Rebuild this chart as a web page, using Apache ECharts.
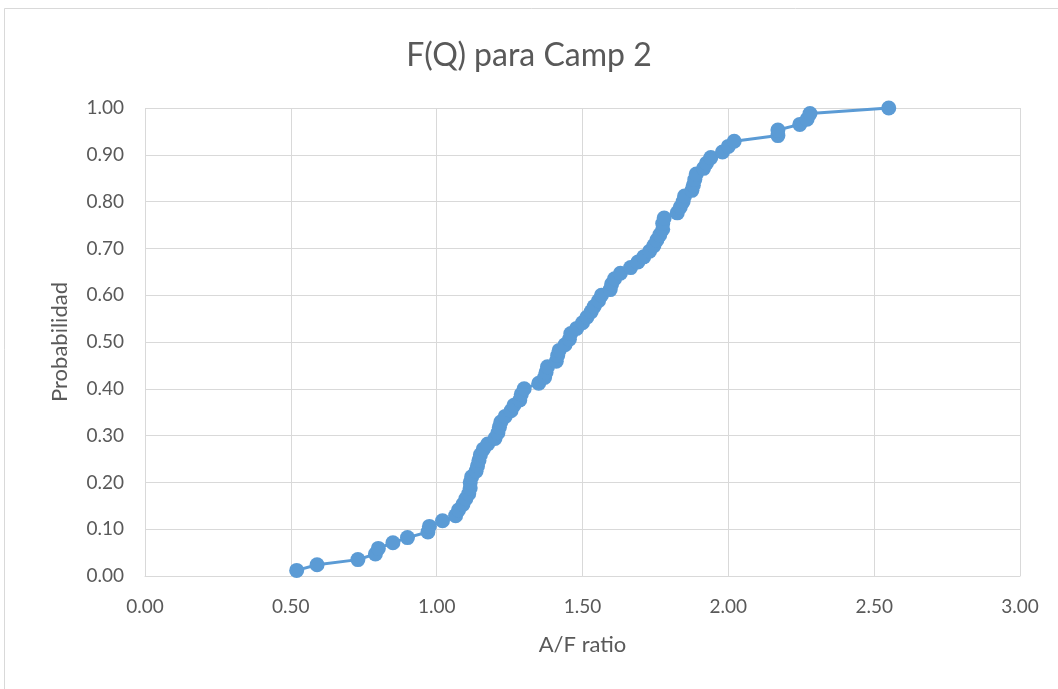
<!DOCTYPE html>
<html><head><meta charset="utf-8">
<script src="https://cdn.jsdelivr.net/npm/echarts@6/dist/echarts.min.js"></script>
<style>html,body{margin:0;padding:0;background:#fff}#c{width:1058px;height:689px}</style>
</head><body><div id="c"></div>
<script>
const title = 'F(Q) para Camp 2';
const xName = 'A/F ratio';
const yName = 'Probabilidad';
const afRatio = [0.52,0.59,0.73,0.79,0.80,0.85,0.90,0.97,0.975,1.02,
  1.065,1.075,1.09,1.10,1.11,1.115,1.115,1.12,1.135,1.14,
  1.145,1.15,1.16,1.175,1.20,1.21,1.215,1.22,1.235,1.255,
  1.265,1.285,1.29,1.30,1.35,1.37,1.375,1.38,1.41,1.415,
  1.42,1.44,1.455,1.46,1.48,1.50,1.515,1.53,1.54,1.555,
  1.565,1.595,1.60,1.61,1.63,1.665,1.69,1.71,1.73,1.745,
  1.755,1.765,1.775,1.775,1.78,1.825,1.835,1.845,1.85,1.875,
  1.88,1.885,1.89,1.915,1.925,1.94,1.98,2.00,2.02,2.17,
  2.17,2.245,2.27,2.28,2.55];
const prob = [0.012,0.024,0.035,0.047,0.059,0.071,0.082,0.094,0.106,0.118,
  0.129,0.141,0.153,0.165,0.176,0.188,0.200,0.212,0.224,0.235,
  0.247,0.259,0.271,0.282,0.294,0.306,0.318,0.329,0.341,0.353,
  0.365,0.376,0.388,0.400,0.412,0.424,0.435,0.447,0.459,0.471,
  0.482,0.494,0.506,0.518,0.529,0.541,0.553,0.565,0.576,0.588,
  0.600,0.612,0.624,0.635,0.647,0.659,0.671,0.682,0.694,0.706,
  0.718,0.729,0.741,0.753,0.765,0.776,0.788,0.800,0.812,0.824,
  0.835,0.847,0.859,0.871,0.882,0.894,0.906,0.918,0.929,0.941,
  0.953,0.965,0.976,0.988,1.000];

const chart = echarts.init(document.getElementById('c'), null, {renderer:'canvas'});
const font = 'Lato, "Open Sans", sans-serif';
chart.setOption({
  animation:false,
  backgroundColor:'#fff',
  title:{text:title,left:'center',top:35,textStyle:{fontFamily:font,fontSize:32,fontWeight:'normal',color:'#595959'}},
  graphic:[{type:'rect',shape:{x:4.5,y:8.5,width:1100,height:700},style:{fill:null,stroke:'#d9d9d9',lineWidth:1},silent:true,z:-1}],
  grid:{left:145,right:38,top:108,bottom:113,containLabel:false},
  xAxis:{type:'value',min:0,max:3,interval:0.5,
    name:xName,nameLocation:'middle',nameGap:58,
    nameTextStyle:{fontFamily:font,fontSize:22,color:'#595959'},
    axisLine:{show:true,lineStyle:{color:'#d9d9d9',width:1}},
    axisTick:{show:false},
    axisLabel:{fontFamily:font,fontSize:19,color:'#595959',margin:21,formatter:v=>v.toFixed(2)},
    splitLine:{show:true,lineStyle:{color:'#d9d9d9',width:1}}},
  yAxis:{type:'value',min:0,max:1,interval:0.1,
    name:yName,nameLocation:'middle',nameGap:74,
    nameTextStyle:{fontFamily:font,fontSize:22,color:'#595959'},
    axisLine:{show:false},axisTick:{show:false},
    axisLabel:{fontFamily:font,fontSize:19,color:'#595959',margin:21,formatter:v=>v.toFixed(2)},
    splitLine:{show:true,lineStyle:{color:'#d9d9d9',width:1}}},
  series:[{type:'line',data:afRatio.map((x,i)=>[x,prob[i]]),
    symbol:'circle',symbolSize:15,showAllSymbol:true,
    lineStyle:{color:'#5b9bd5',width:3},
    itemStyle:{color:'#5b9bd5'}}]
});
</script></body></html>
